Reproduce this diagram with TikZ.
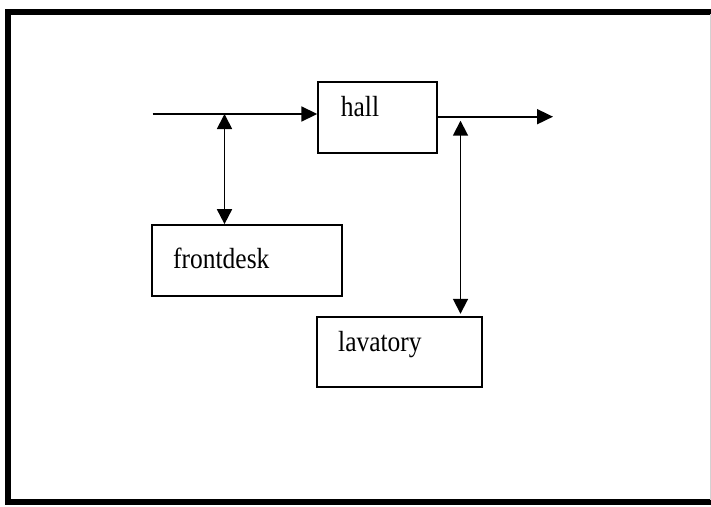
\documentclass[tikz,border=0pt]{standalone}
\usepackage{fontspec}
\setmainfont{Liberation Serif}
\usetikzlibrary{arrows.meta}
\begin{document}
\begin{tikzpicture}[x=1pt,y=-1pt,
  box/.style={draw,line width=1.8pt,rectangle,inner sep=0pt,minimum width=#1},
  lbl/.style={anchor=base west,inner sep=0pt,font=\fontsize{26}{30}\selectfont},
  conn/.style={line width=1.8pt},
  arr/.style={conn,-{Triangle[width=15pt,length=16pt]}},
  dbl/.style={conn,{Triangle[width=15pt,length=15pt]}-{Triangle[width=15pt,length=15pt]}},
  frame/.style={line width=5.5pt}]
\useasboundingbox (0,0) rectangle (711,506);
% frame
\draw[frame] (713,12) -- (8,12) -- (8,502) -- (713,502);
\draw[line width=0.8pt,gray!35] (710,14) -- (710,500);
% boxes
\node[box=119pt,minimum height=71.6pt] (hall) at (377.7,117.5) {};
\node[box=190.3pt,minimum height=70.7pt] (frontdesk) at (246.9,260.4) {};
\node[box=165pt,minimum height=70pt] (lavatory) at (399.5,351.7) {};
% labels
\node[lbl] (thall) at (340.7,116.7) {\scalebox{0.98}[1.12]{hall}};
\node[lbl] (tfront) at (173,268.5) {\scalebox{0.98}[1.12]{frontdesk}};
\node[lbl] (tlav) at (338,351.7) {\scalebox{0.98}[1.12]{lavatory}};
% connectors
\coordinate (in) at (152.7,114);
\coordinate (j1) at (224.5,114);
\coordinate (j2) at (460.5,116.7);
\coordinate (out) at (553,116.7);
\draw[arr] (in) -- (in -| hall.west);
\draw[arr] (hall.east |- out) -- (out);
\draw[dbl] (j1) -- (j1 |- frontdesk.north);
\draw[dbl] ([yshift=-4pt]j2) -- ([yshift=2pt]j2 |- lavatory.north);
\end{tikzpicture}
\end{document}
